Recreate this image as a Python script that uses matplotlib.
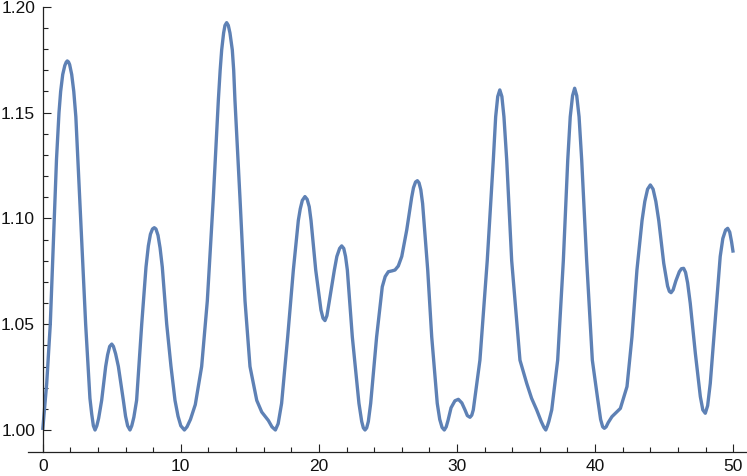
import numpy as np
import matplotlib
matplotlib.use("Agg")
import matplotlib.pyplot as plt
from matplotlib.ticker import FixedLocator, FormatStrFormatter

plt.rcParams["font.family"] = ["Liberation Sans", "DejaVu Sans"]

# values (t, value)
t_vals = [0.0, 0.29, 0.55, 0.84, 1.0, 1.18, 1.3, 1.45, 1.6, 1.7, 1.78, 1.87, 1.95, 2.1, 2.25, 2.4,
          2.75, 3.11, 3.42, 3.55, 3.67, 3.79, 3.92, 4.05, 4.27,
          4.56, 4.7, 4.85, 5.0, 5.12, 5.28, 5.48, 5.84, 6.0, 6.15, 6.32, 6.45, 6.6, 6.8,
          7.17, 7.48, 7.65, 7.8, 7.95, 8.08, 8.2, 8.35, 8.5, 8.66, 8.98, 9.29, 9.58,
          9.8, 10.0, 10.26, 10.45, 10.7, 11.05, 11.51, 11.92, 12.35, 12.72, 12.85, 12.96,
          13.1, 13.2, 13.32, 13.44, 13.56, 13.73, 13.83, 13.92, 14.29, 14.65, 15.01,
          15.5, 15.86, 16.34, 16.6, 16.85, 17.05, 17.3, 17.74, 18.15, 18.51, 18.65, 18.8,
          18.99, 19.15, 19.3, 19.43, 19.77, 20.15, 20.3, 20.44, 20.58, 20.73, 21.12, 21.3,
          21.5, 21.65, 21.8, 21.93, 22.06, 22.42, 22.9, 23.1, 23.22, 23.34, 23.46, 23.58,
          23.75, 24.18, 24.59, 24.8, 25.03, 25.3, 25.51, 25.75, 26.0, 26.36, 26.72, 26.85,
          27.0, 27.13, 27.25, 27.38, 27.51, 27.88, 28.17, 28.57, 28.75, 28.92, 29.08, 29.22,
          29.35, 29.57, 29.85, 30.1, 30.35, 30.58, 30.75, 30.94, 31.07, 31.18, 31.66, 32.19,
          32.63, 32.8, 32.95, 33.1, 33.25, 33.4, 33.6, 33.96, 34.56, 35.05, 35.4, 35.77,
          36.1, 36.3, 36.43, 36.55, 36.65, 36.86, 37.29, 37.7, 38.02, 38.2, 38.37, 38.52,
          38.67, 38.84, 39.03, 39.39, 39.8, 40.18, 40.4, 40.55, 40.67, 40.8, 40.95, 41.22,
          41.83, 42.31, 42.67, 43.03, 43.4, 43.6, 43.8, 44.0, 44.2, 44.4, 44.61, 44.97,
          45.25, 45.38, 45.5, 45.65, 45.85, 46.1, 46.25, 46.41, 46.55, 46.7, 46.89, 47.26,
          47.62, 47.8, 47.98, 48.15, 48.34, 48.7, 49.06, 49.25, 49.45, 49.6, 49.75, 49.88, 50.0]
y_vals = [1.000, 1.022, 1.050, 1.100, 1.128, 1.150, 1.160, 1.168, 1.1722, 1.1738, 1.1744, 1.1739, 1.1727, 1.168, 1.160, 1.148,
          1.100, 1.050, 1.015, 1.0075, 1.002, 1.000, 1.002, 1.0055, 1.014,
          1.030, 1.0355, 1.0395, 1.0406, 1.0395, 1.036, 1.030, 1.014, 1.0065, 1.002, 1.000, 1.002, 1.006, 1.014,
          1.050, 1.077, 1.087, 1.0925, 1.0950, 1.0956, 1.095, 1.092, 1.086, 1.077, 1.050, 1.030, 1.014,
          1.0065, 1.002, 1.000, 1.0015, 1.005, 1.012, 1.030, 1.061, 1.109, 1.156, 1.170, 1.1796,
          1.1876, 1.1912, 1.1925, 1.1912, 1.1876, 1.1796, 1.170, 1.156, 1.109, 1.061, 1.030,
          1.014, 1.0085, 1.0045, 1.0015, 1.000, 1.003, 1.0126, 1.044, 1.0756, 1.099, 1.1045, 1.1085,
          1.1103, 1.109, 1.1055, 1.099, 1.0756, 1.0567, 1.0528, 1.0517, 1.054, 1.0599, 1.0756, 1.082,
          1.0858, 1.087, 1.0858, 1.082, 1.0756, 1.044, 1.0126, 1.004, 1.001, 1.000, 1.001, 1.004,
          1.0126, 1.044, 1.0677, 1.0725, 1.0748, 1.0752, 1.0756, 1.0775, 1.082, 1.0945, 1.110, 1.1145,
          1.1172, 1.1178, 1.1168, 1.1135, 1.107, 1.0756, 1.044, 1.0126, 1.005, 1.0012, 1.000, 1.0015,
          1.0045, 1.0105, 1.0138, 1.0145, 1.0128, 1.0095, 1.0068, 1.006, 1.007, 1.0095, 1.033, 1.080,
          1.1276, 1.148, 1.1576, 1.1607, 1.1576, 1.148, 1.1276, 1.080, 1.033, 1.022, 1.015, 1.0095,
          1.004, 1.0012, 1.000, 1.002, 1.004, 1.0095, 1.033, 1.080, 1.1276, 1.148, 1.158, 1.1615,
          1.158, 1.148, 1.1276, 1.080, 1.033, 1.015, 1.005, 1.0015, 1.0008, 1.0015, 1.0035, 1.0063,
          1.0102, 1.0205, 1.044, 1.0756, 1.099, 1.108, 1.1138, 1.1158, 1.1138, 1.108, 1.099, 1.0788,
          1.068, 1.0655, 1.0649, 1.0662, 1.0705, 1.0748, 1.0762, 1.0764, 1.0745, 1.0695, 1.0599, 1.0362,
          1.0158, 1.0095, 1.0079, 1.0115, 1.022, 1.052, 1.082, 1.0905, 1.0945, 1.0953, 1.0935, 1.089, 1.0838]

x_ticks = [0, 10, 20, 30, 40, 50]
x_minor = [2, 4, 6, 8, 12, 14, 16, 18, 22, 24, 26, 28, 32, 34, 36, 38, 42, 44, 46, 48]
y_ticks = [1.00, 1.05, 1.10, 1.15, 1.20]

fig = plt.figure(figsize=(7.47, 4.76), dpi=100)
ax = fig.add_axes([0, 0, 1, 1])
ax.patch.set_alpha(0)

ax.plot(t_vals, y_vals, color="#5E81B5", lw=2.4, solid_capstyle="butt", solid_joinstyle="round")

ax.set_xlim(-3.092, 51.0)
ax.set_ylim(0.97826, 1.2032)

axis_col = "#222222"
for s in ["top", "right"]:
    ax.spines[s].set_visible(False)
ax.spines["left"].set_position(("data", 0))
ax.spines["bottom"].set_position(("data", 0.98974))
ax.spines["left"].set_bounds(0.98974, 1.20)
ax.spines["bottom"].set_bounds(-1.06, 51.0)
for s in ["left", "bottom"]:
    ax.spines[s].set_color(axis_col)
    ax.spines[s].set_linewidth(0.9)

ax.set_xticks(x_ticks)
ax.set_yticks(y_ticks)
ax.xaxis.set_minor_locator(FixedLocator(x_minor))
ax.yaxis.set_minor_locator(FixedLocator([v for v in np.arange(1.01, 1.2, 0.01)
                                         if round(v * 100) % 5 != 0]))
ax.yaxis.set_major_formatter(FormatStrFormatter("%.2f"))
ax.tick_params(which="both", direction="in", color=axis_col, width=0.8,
               labelsize=12.5, labelcolor="#111111")
ax.tick_params(which="major", length=5.8)
ax.tick_params(which="minor", length=3.6)
ax.tick_params(axis="x", which="major", pad=5)
ax.tick_params(axis="y", which="major", pad=5.5)

fig.savefig("out.png", dpi=100)
